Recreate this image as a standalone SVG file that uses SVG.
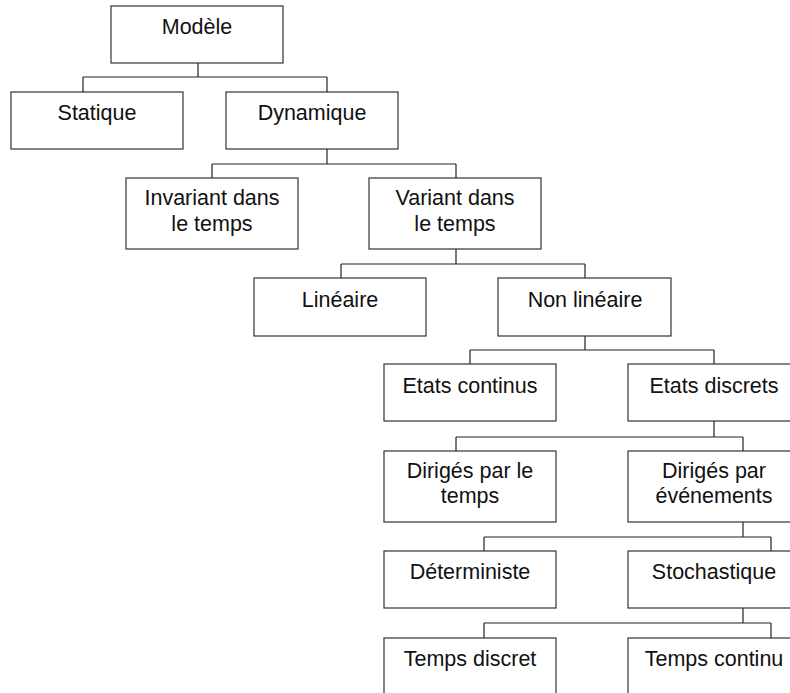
<svg xmlns="http://www.w3.org/2000/svg" width="790" height="693" viewBox="0 0 790 693">
<style>
.box{fill:#fff;stroke:#333;stroke-width:1.2}
.lbl{font-family:"Liberation Sans",Arial,sans-serif;font-size:21.5px;fill:#111;text-anchor:middle}
.con{fill:none;stroke:#222;stroke-width:1.2}
</style>
<rect width="790" height="693" fill="#fff"/>
<g id="connectors">
<path class="con" d="M198,63V77M83,77H327M83,77V92M327,77V92"/>
<path class="con" d="M327,149V164M212,164H456M212,164V178M456,164V178"/>
<path class="con" d="M456,249V264M341,264H585M341,264V278M585,264V278"/>
<path class="con" d="M585,336V350M470,350H714M470,350V364M714,350V364"/>
<path class="con" d="M714,421V437M456,437H743M456,437V451M743,437V451"/>
<path class="con" d="M743,522V537M484,537H771M484,537V551M771,537V551"/>
<path class="con" d="M743,608V623M484,623H771M484,623V638M771,623V638"/>
</g>
<g id="n-modele"><rect class="box" x="111" y="6" width="172" height="57"/><text class="lbl" x="197" y="34">Modèle</text></g>
<g id="n-statique"><rect class="box" x="11" y="92" width="172" height="57"/><text class="lbl" x="97" y="120">Statique</text></g>
<g id="n-dynamique"><rect class="box" x="226" y="92" width="172" height="57"/><text class="lbl" x="312" y="120">Dynamique</text></g>
<g id="n-invariant"><rect class="box" x="126" y="178" width="172" height="71"/><text class="lbl" x="212" y="205">Invariant dans</text><text class="lbl" x="212" y="231">le temps</text></g>
<g id="n-variant"><rect class="box" x="369" y="178" width="172" height="71"/><text class="lbl" x="455" y="205">Variant dans</text><text class="lbl" x="455" y="231">le temps</text></g>
<g id="n-lineaire"><rect class="box" x="254" y="278" width="172" height="58"/><text class="lbl" x="340" y="307">Linéaire</text></g>
<g id="n-nonlineaire"><rect class="box" x="498" y="278" width="173" height="58"/><text class="lbl" x="585" y="307">Non linéaire</text></g>
<g id="n-etatscontinus"><rect class="box" x="384" y="364" width="172" height="57"/><text class="lbl" x="470" y="393">Etats continus</text></g>
<g id="n-etatsdiscrets"><rect class="box" x="628" y="364" width="172" height="57"/><text class="lbl" x="714" y="393">Etats discrets</text></g>
<g id="n-dirigestemps"><rect class="box" x="384" y="451" width="172" height="71"/><text class="lbl" x="470" y="478">Dirigés par le</text><text class="lbl" x="470" y="503">temps</text></g>
<g id="n-dirigesevenements"><rect class="box" x="628" y="451" width="172" height="71"/><text class="lbl" x="714" y="478">Dirigés par</text><text class="lbl" x="714" y="503">événements</text></g>
<g id="n-deterministe"><rect class="box" x="384" y="551" width="172" height="57"/><text class="lbl" x="470" y="579">Déterministe</text></g>
<g id="n-stochastique"><rect class="box" x="628" y="551" width="172" height="57"/><text class="lbl" x="714" y="579">Stochastique</text></g>
<g id="n-tempsdiscret"><rect class="box" x="384" y="638" width="172" height="70"/><text class="lbl" x="470" y="666">Temps discret</text></g>
<g id="n-tempscontinu"><rect class="box" x="628" y="638" width="172" height="70"/><text class="lbl" x="714" y="666">Temps continu</text></g>
</svg>
